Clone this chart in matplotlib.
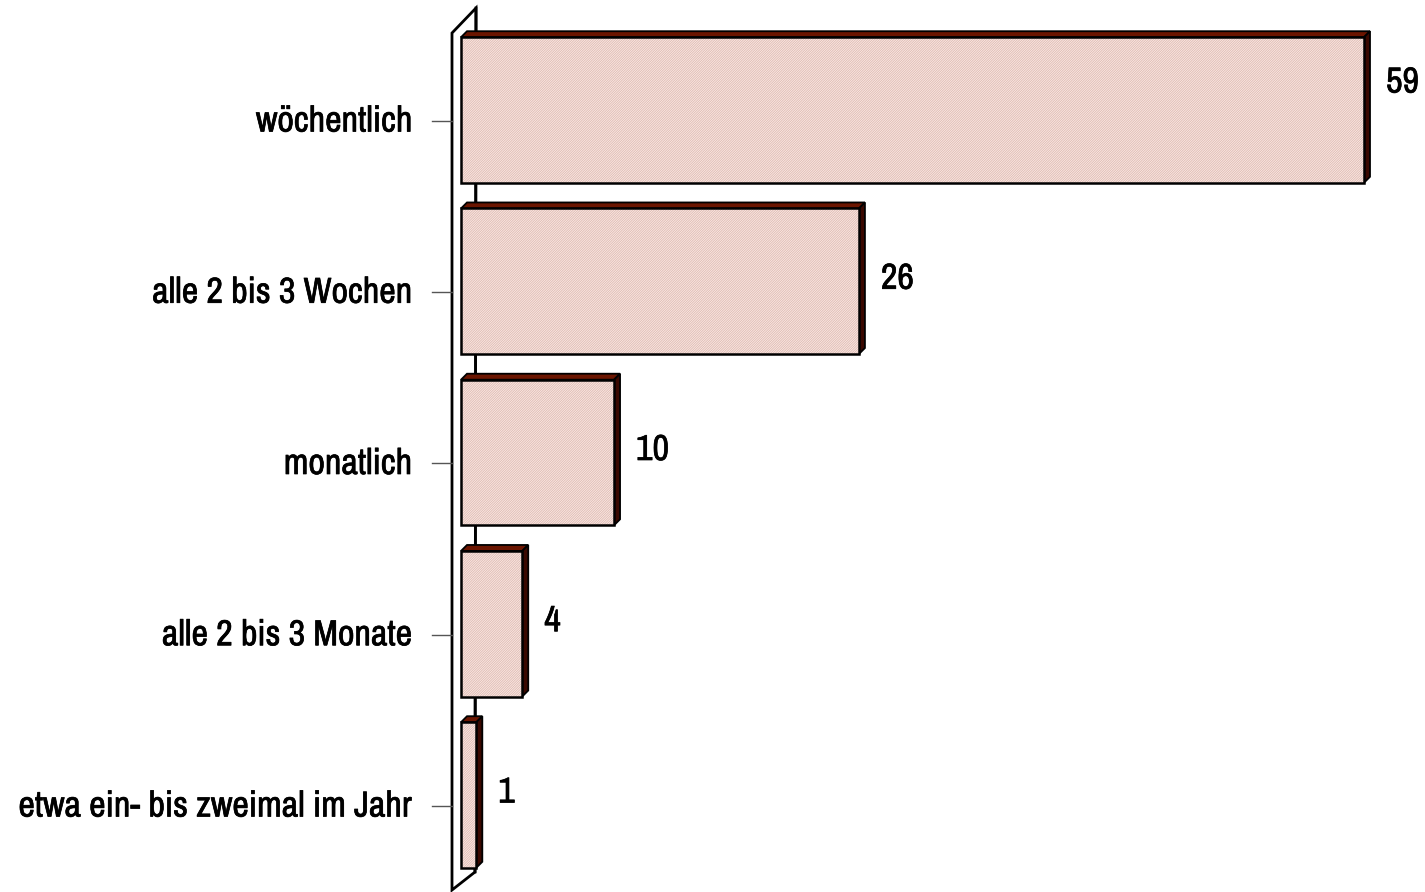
import numpy as np
import matplotlib
matplotlib.use("Agg")
import matplotlib.pyplot as plt
import matplotlib.patheffects as pe
from matplotlib.patches import Polygon

categories = ["wöchentlich", "alle 2 bis 3 Wochen", "monatlich",
              "alle 2 bis 3 Monate", "etwa ein- bis zweimal im Jahr"]
values = [59, 26, 10, 4, 1]

plt.rcParams['hatch.linewidth'] = 0.6
font = ['Liberation Sans Narrow', 'Archivo Narrow', 'Liberation Sans']
bold = [pe.withStroke(linewidth=0.5, foreground='black')]

W, H = 1425, 892
fig = plt.figure(figsize=(W / 100, H / 100), dpi=100)

# pixel layout of the plot box
ppu = 903 / 59.0          # px per value unit
step = 171.25             # px per category
x_left_px, x0_px = 452, 461
xmin = (x_left_px - x0_px) / ppu
xmax = 62
top_px = 110 - 0.6 * step
ylo, yhi = -0.6, 4.55
height_px = (yhi - ylo) * step
ax = fig.add_axes([x_left_px / W, 1 - (top_px + height_px) / H,
                   (xmax - xmin) * ppu / W, height_px / H])
ax.set_xlim(xmin, xmax)
ax.set_ylim(yhi, ylo)
ax.axis('off')

def px(dx, dy):
    # pixel offsets -> data offsets (dy positive = upward on screen)
    return dx / ppu, -dy / step

y = np.arange(len(categories))
bh = 0.85

# wall (slanted back plane)
wx0 = xmin
wdx, wdy = px(24, 25)
wtop = ylo + (33 - top_px) / step
wbot = ylo + (890 - top_px) / step
bdx, bdy = px(23, 18)
ax.add_patch(Polygon([[wx0, wbot], [wx0, wtop], [wx0 + wdx, wtop + wdy],
                      [wx0 + bdx, wbot + bdy]], closed=True,
                     facecolor='white', edgecolor='black', lw=2.0,
                     clip_on=False, zorder=1))
ax.plot([wx0 + wdx, wx0 + bdx], [wtop + wdy, wbot + bdy], color='black',
        lw=2.0, zorder=1, clip_on=False)

# bars: 3d top and side, then hatched front
ddx, ddy = px(6, 6)
for yi, v in zip(y, values):
    t, b = yi - bh / 2, yi + bh / 2
    ax.add_patch(Polygon([[0, t], [ddx, t + ddy], [v + ddx, t + ddy], [v, t]],
                         closed=True, facecolor='#6b1500', edgecolor='black',
                         lw=1.3, zorder=2, clip_on=False))
    ax.add_patch(Polygon([[v, t], [v + ddx, t + ddy], [v + ddx, b + ddy], [v, b]],
                         closed=True, facecolor='#3a0800', edgecolor='black',
                         lw=1.3, zorder=2, clip_on=False))

ax.barh(y, values, height=bh, left=0, color='#f9ebe7', edgecolor='#e0b9b0',
        hatch='/' * 14, lw=0, zorder=3)
ax.barh(y, values, height=bh, left=0, color='none', edgecolor='black',
        lw=1.8, zorder=4)

# tick marks and category labels
tick_off = 11 / step
for yi, cat in zip(y, categories):
    ax.plot([xmin - 20 / ppu, xmin], [yi + tick_off] * 2, color='#555555',
            lw=1, clip_on=False, zorder=1)
    ax.text(xmin - 40 / ppu, yi + tick_off, cat, ha='right', va='center',
            fontsize=26, fontweight='bold', family=font, path_effects=bold)

# value labels
for yi, v in zip(y, values):
    lx = v + 22 / ppu
    ly = yi - 3 / step
    if v == max(values):
        ly = yi - 28 / step
    ax.text(lx, ly, str(v), ha='left', va='center', fontsize=26,
            fontweight='bold', family=font, clip_on=False, path_effects=bold)

fig.savefig("out.png", dpi=100)
